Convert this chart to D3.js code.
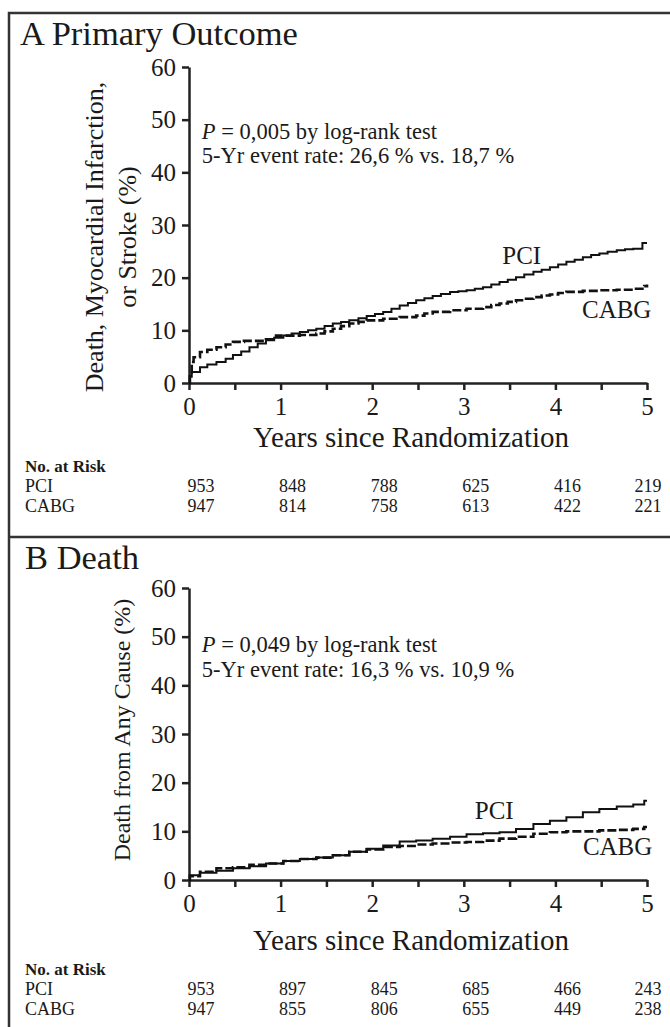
<!DOCTYPE html>
<html><head><meta charset="utf-8">
<script src="https://cdn.jsdelivr.net/npm/d3@7"></script>
<style>
html,body{margin:0;padding:0;background:#fff;}
svg text{font-family:"Liberation Serif","Times New Roman",serif;fill:#1a1a1a;}
</style></head>
<body>
<svg id="chart" width="670" height="1027"></svg>
<script>
// ---------- data ----------
const years = [0, 1, 2, 3, 4, 5];
const halfYears = [0, 0.5, 1, 1.5, 2, 2.5, 3, 3.5, 4, 4.5, 5];
const yTicks = [0, 10, 20, 30, 40, 50, 60];
const groups = ["PCI", "CABG"];

// Panel A: primary outcome (cumulative %)
const pciA = [[0,0],[0.01,1.2],[0.03,2.1],[0.12,3.0],[0.2,3.5],[0.3,4.0],[0.4,4.6],[0.48,5.3],[0.57,6.0],[0.66,6.8],[0.75,7.5],[0.84,8.1],[0.93,8.6],[1.03,9.0],[1.12,9.4],[1.21,9.7],[1.3,10.0],[1.39,10.3],[1.48,10.8],[1.57,11.3],[1.66,11.6],[1.75,11.9],[1.85,12.3],[1.94,12.7],[2.03,13.1],[2.12,13.5],[2.21,14.1],[2.3,14.7],[2.39,15.2],[2.48,15.7],[2.57,16.1],[2.66,16.5],[2.75,16.9],[2.85,17.3],[2.94,17.4],[3.03,17.6],[3.12,17.9],[3.21,18.2],[3.3,18.7],[3.39,19.2],[3.48,19.6],[3.57,20.1],[3.66,20.6],[3.76,21.1],[3.85,21.5],[3.94,22.0],[4.03,22.5],[4.12,23.0],[4.21,23.4],[4.3,23.9],[4.39,24.3],[4.48,24.6],[4.57,24.9],[4.67,25.2],[4.76,25.4],[4.85,25.5],[4.95,26.6],[5,26.6]];
const cabgA = [[0,0],[0.01,2.0],[0.03,4.0],[0.05,4.9],[0.12,5.9],[0.2,6.3],[0.3,6.8],[0.4,7.3],[0.48,7.8],[0.6,8.0],[0.84,8.3],[0.95,9.0],[1.21,9.1],[1.39,9.4],[1.48,9.8],[1.57,10.3],[1.66,10.8],[1.75,11.3],[1.85,11.6],[1.94,11.9],[2.12,12.2],[2.3,12.5],[2.48,12.8],[2.57,13.2],[2.66,13.5],[2.85,13.8],[3.03,14.1],[3.21,14.4],[3.3,14.8],[3.39,15.1],[3.48,15.4],[3.57,15.7],[3.66,16.0],[3.76,16.3],[3.85,16.6],[3.94,16.8],[4.03,17.1],[4.12,17.3],[4.3,17.5],[4.48,17.6],[4.67,17.7],[4.85,17.9],[4.97,18.4],[5,18.7]];

// Panel B: death from any cause (cumulative %)
const pciB = [[0,0],[0.01,1.0],[0.12,1.5],[0.3,1.9],[0.48,2.4],[0.66,2.8],[0.84,3.4],[1.03,3.9],[1.21,4.3],[1.39,4.6],[1.57,5.1],[1.75,5.8],[1.94,6.4],[2.12,7.1],[2.3,7.9],[2.48,8.1],[2.66,8.5],[2.85,8.9],[3.03,9.4],[3.21,9.6],[3.39,9.8],[3.57,10.5],[3.76,11.5],[3.94,12.2],[4.12,12.9],[4.3,13.9],[4.48,14.6],[4.67,15.1],[4.85,15.5],[4.97,16.3],[5,16.3]];
const cabgB = [[0,0],[0.01,0.8],[0.12,1.7],[0.3,2.4],[0.48,2.6],[0.66,3.1],[0.84,3.4],[1.03,3.9],[1.21,4.3],[1.39,4.6],[1.57,5.1],[1.75,5.8],[1.94,6.3],[2.12,6.8],[2.3,7.0],[2.48,7.3],[2.66,7.5],[2.85,7.7],[3.03,7.8],[3.21,8.1],[3.39,8.5],[3.57,8.9],[3.76,9.5],[3.94,9.8],[4.12,10.0],[4.3,10.0],[4.48,10.2],[4.67,10.3],[4.85,10.5],[4.97,10.9],[5,10.9]];

// Numbers at risk
const riskPciA  = [953, 848, 788, 625, 416, 219];
const riskCabgA = [947, 814, 758, 613, 422, 221];
const riskPciB  = [953, 897, 845, 685, 466, 243];
const riskCabgB = [947, 855, 806, 655, 449, 238];

// Texts
const titleA = "A Primary Outcome";
const titleB = "B Death";
const yLabelA = ["Death, Myocardial Infarction,", "or Stroke (%)"];
const yLabelB = ["Death from Any Cause (%)"];
const pTextA = ["0,005 by log-rank test", "5-Yr event rate: 26,6 % vs. 18,7 %"];
const pTextB = ["0,049 by log-rank test", "5-Yr event rate: 16,3 % vs. 10,9 %"];
const xTitle = "Years since Randomization";
const riskTitle = "No. at Risk";

// ---------- drawing ----------
const svg = d3.select("#chart");

// frame
svg.append("path").attr("d", "M9,1027V13H690").attr("fill", "none").attr("stroke", "#333").attr("stroke-width", 2.5);
svg.append("line").attr("x1", 9).attr("x2", 690).attr("y1", 537).attr("y2", 537).attr("stroke", "#333").attr("stroke-width", 2.5);

function drawPanel(o) {
  const x = d3.scaleLinear().domain([0, 5]).range([189, 647]);
  const y = d3.scaleLinear().domain([0, 60]).range([o.y0, o.y60]);
  const g = svg.append("g");

  g.append("text").attr("x", o.titleX).attr("y", o.titleY).attr("font-size", 34.5).text(o.title);

  // y axis
  const ya = g.append("g").attr("transform", "translate(189,0)")
    .call(d3.axisLeft(y).tickValues(yTicks).tickSize(7).tickSizeOuter(0).tickPadding(6));
  // x axis
  const xa = g.append("g").attr("transform", `translate(0,${o.y0})`)
    .call(d3.axisBottom(x).tickValues(halfYears).tickSize(7).tickSizeOuter(0).tickPadding(7)
      .tickFormat(d => Number.isInteger(d) ? d : ""));
  [ya, xa].forEach(a => {
    a.selectAll("path,line").attr("stroke", "#222").attr("stroke-width", 2.5);
    a.selectAll("text").attr("font-size", 25).attr("font-family", '"Liberation Serif",serif').attr("fill", "#1a1a1a");
  });

  // y label
  o.yLabel.forEach((t, i) => {
    g.append("text").attr("transform", `translate(${o.yLabelX[i]},${o.yLabelCY}) rotate(-90)`)
      .attr("text-anchor", "middle").attr("font-size", o.yLabelSize).text(t);
  });

  // x title
  g.append("text").attr("x", 411).attr("y", o.xTitleY).attr("text-anchor", "middle").attr("font-size", 29).text(xTitle);

  // p text
  const p1 = g.append("text").attr("x", x(0.14)).attr("y", y(o.pV[0])).attr("font-size", 22.5);
  p1.append("tspan").attr("font-style", "italic").text("P");
  p1.append("tspan").text(" = " + o.pText[0]);
  g.append("text").attr("x", x(0.14)).attr("y", y(o.pV[1])).attr("font-size", 22.5).text(o.pText[1]);

  // curves
  const line = d3.line().x(d => x(d[0])).y(d => y(d[1])).curve(d3.curveStepAfter);
  g.append("path").datum(o.cabg).attr("d", line).attr("fill", "none").attr("stroke", "#111")
    .attr("stroke-width", 2.6).attr("stroke-dasharray", "9,3");
  g.append("path").datum(o.pci).attr("d", line).attr("fill", "none").attr("stroke", "#111")
    .attr("stroke-width", 2);

  // curve labels
  g.append("text").attr("x", x(o.pciLab[0])).attr("y", y(o.pciLab[1])).attr("font-size", 25).text(groups[0]);
  g.append("text").attr("x", x(o.cabgLab[0])).attr("y", y(o.cabgLab[1])).attr("font-size", 25).text(groups[1]);

  // risk table
  g.append("text").attr("x", 25).attr("y", o.riskY[0]).attr("font-size", 17).attr("font-weight", "bold").text(riskTitle);
  [o.riskPci, o.riskCabg].forEach((row, r) => {
    g.append("text").attr("x", 25).attr("y", o.riskY[r + 1]).attr("font-size", 18).text(groups[r]);
    g.selectAll(null).data(row).join("text")
      .attr("x", (d, i) => i < 5 ? x(years[i]) + 12 : x(years[i]) + 1)
      .attr("y", o.riskY[r + 1]).attr("text-anchor", "middle").attr("font-size", 18).text(d => d);
  });
}

drawPanel({
  title: titleA, titleX: 20, titleY: 45, y0: 383, y60: 67,
  yLabel: yLabelA, yLabelX: [103, 136], yLabelCY: 237, yLabelSize: 26,
  pText: pTextA, pV: [46.4, 41.7], xTitleY: 447,
  pci: pciA, cabg: cabgA, pciLab: [3.42, 22.6], cabgLab: [4.29, 12.3],
  riskPci: riskPciA, riskCabg: riskCabgA, riskY: [472, 492, 512]
});
drawPanel({
  title: titleB, titleX: 25, titleY: 569, y0: 880, y60: 588,
  yLabel: yLabelB, yLabelX: [130], yLabelCY: 730, yLabelSize: 24,
  pText: pTextB, pV: [46.9, 41.7], xTitleY: 950,
  pci: pciB, cabg: cabgB, pciLab: [3.12, 12.5], cabgLab: [4.30, 5.1],
  riskPci: riskPciB, riskCabg: riskCabgB, riskY: [975, 995, 1015]
});
</script>
</body></html>
